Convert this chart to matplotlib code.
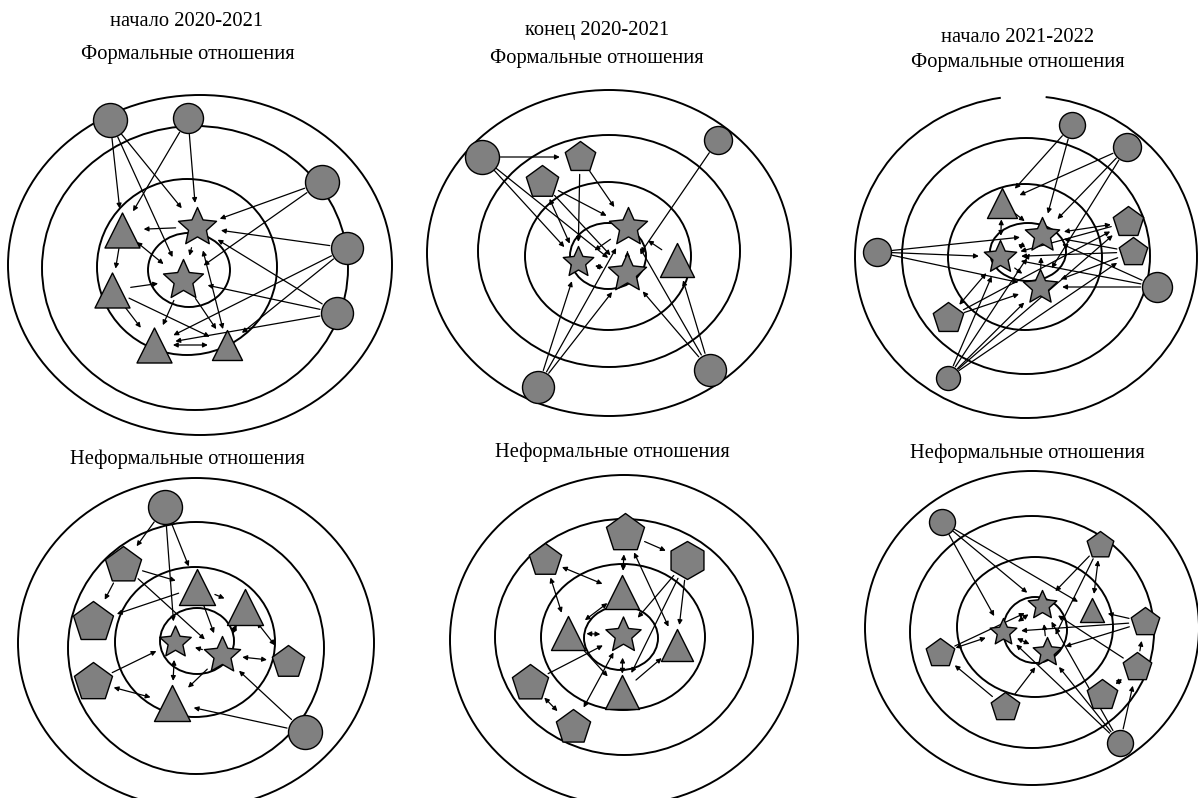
import matplotlib
matplotlib.use("Agg")
import matplotlib.pyplot as plt
from matplotlib.patches import Ellipse, Arc, FancyArrowPatch
from matplotlib.path import Path

# ---- titles ----
titles_top = ["начало 2020-2021", "конец 2020-2021", "начало 2021-2022"]
title_formal = "Формальные отношения"
title_informal = "Неформальные отношения"

# ---- rings: (cx, cy, rx, ry) for each of the 4 circles, per panel ----
rings = [
    [(200, 265, 192, 170), (195, 268, 153, 142), (187, 267, 90, 88), (189, 270, 41, 37)],
    [(609, 253, 182, 163), (609, 251, 131, 116), (608, 256, 83, 74), (608, 256, 38, 33)],
    [(1026, 257, 171, 161), (1026, 256, 124, 118), (1025, 257, 77, 73), (1028, 252, 38, 29)],
    [(196, 643, 178, 165), (196, 648, 128, 126), (195, 642, 80, 75), (197, 641, 37, 33)],
    [(624, 640, 174, 165), (624, 637, 129, 118), (623, 637, 82, 73), (621, 638, 37, 32)],
    [(1032, 628, 167, 157), (1032, 632, 122, 116), (1035, 627, 78, 70), (1035, 630, 32, 33)],
]

# ---- nodes per panel ----
p1_x = [110, 188, 322, 347, 337, 197, 183, 122, 112, 154, 227]
p1_y = [120, 118, 182, 248, 313, 227, 280, 230, 290, 345, 345]
p1_shape = ["o", "o", "o", "o", "o", "*", "*", "^", "^", "^", "^"]
p1_edges = [(0, 7, 1), (0, 5, 1), (0, 6, 1), (1, 7, 1), (1, 5, 1), (2, 5, 1), (2, 6, 1),
            (3, 5, 1), (3, 9, 1), (3, 10, 1), (4, 5, 1), (4, 6, 1), (4, 9, 1), (5, 7, 1),
            (7, 6, 2), (7, 8, 1), (8, 6, 1), (8, 10, 1), (8, 9, 1), (6, 9, 1), (9, 10, 2),
            (10, 5, 2), (5, 6, 1), (6, 10, 1)]

p2_x = [482, 718, 538, 710, 580, 542, 628, 578, 627, 677]
p2_y = [157, 140, 387, 370, 157, 182, 227, 262, 273, 260]
p2_shape = ["o", "o", "o", "o", "p", "p", "*", "*", "*", "^"]
p2_edges = [(0, 4, 1), (0, 7, 1), (0, 8, 1), (5, 7, 2), (5, 6, 1), (5, 8, 1), (4, 7, 1),
            (4, 6, 1), (1, 8, 1), (2, 7, 1), (2, 6, 1), (2, 8, 1), (3, 8, 1), (3, 6, 1),
            (3, 9, 1), (7, 8, 2), (8, 6, 1), (6, 7, 1), (9, 6, 1)]

p3_x = [1072, 1127, 877, 1157, 948, 1002, 1128, 1133, 948, 1042, 1000, 1040]
p3_y = [125, 147, 252, 287, 378, 203, 222, 252, 318, 235, 257, 287]
p3_shape = ["o", "o", "o", "o", "o", "^", "p", "p", "p", "*", "*", "*"]
p3_edges = [(0, 5, 1), (0, 9, 1), (1, 5, 1), (1, 9, 1), (1, 11, 1), (2, 9, 1), (2, 10, 1),
            (2, 11, 1), (3, 9, 1), (3, 10, 1), (3, 11, 1), (6, 9, 2), (6, 10, 1), (7, 9, 1),
            (7, 10, 1), (7, 11, 1), (4, 10, 1), (4, 11, 1), (4, 9, 1), (4, 6, 1), (4, 7, 1),
            (8, 10, 2), (8, 11, 1), (8, 6, 1), (5, 10, 2), (5, 9, 1), (9, 10, 2), (10, 11, 1),
            (11, 9, 1)]

p4_x = [165, 305, 123, 93, 93, 288, 197, 245, 172, 175, 222]
p4_y = [507, 732, 565, 622, 682, 662, 587, 607, 703, 642, 655]
p4_shape = ["o", "o", "p", "p", "p", "p", "^", "^", "^", "*", "*"]
p4_edges = [(0, 2, 1), (0, 6, 1), (0, 9, 1), (2, 6, 1), (2, 3, 1), (2, 10, 1), (6, 3, 1),
            (7, 10, 2), (7, 5, 2), (6, 7, 1), (10, 5, 2), (4, 9, 1), (4, 8, 2), (10, 9, 1),
            (9, 8, 2), (10, 8, 1), (1, 10, 1), (1, 8, 1), (6, 10, 1)]

p5_x = [625, 545, 687, 622, 568, 677, 622, 623, 530, 573]
p5_y = [533, 560, 560, 592, 633, 645, 692, 635, 683, 727]
p5_shape = ["p", "p", "h", "^", "^", "^", "^", "*", "p", "p"]
p5_edges = [(0, 2, 1), (0, 3, 2), (1, 3, 2), (1, 4, 2), (2, 7, 1), (2, 6, 1), (2, 5, 1),
            (0, 5, 2), (3, 4, 2), (4, 7, 2), (8, 7, 1), (8, 9, 2), (7, 9, 2), (6, 7, 2),
            (6, 5, 1), (4, 6, 1)]

p6_x = [942, 1120, 1100, 1092, 1145, 940, 1137, 1102, 1005, 1042, 1003, 1047]
p6_y = [522, 743, 545, 610, 622, 653, 667, 695, 707, 605, 632, 652]
p6_shape = ["o", "o", "p", "^", "p", "p", "p", "p", "p", "*", "*", "*"]
p6_edges = [(0, 10, 1), (0, 9, 1), (0, 3, 1), (2, 9, 1), (2, 11, 1), (2, 3, 2), (4, 3, 1),
            (4, 10, 1), (4, 11, 1), (5, 10, 2), (5, 9, 1), (6, 4, 1), (6, 9, 1), (7, 6, 2),
            (1, 6, 1), (1, 11, 1), (1, 10, 1), (1, 9, 1), (8, 5, 1), (8, 11, 1), (9, 10, 2),
            (10, 11, 2), (11, 9, 1)]

# marker sizes in pixels (diameter), per panel
p1_size = [34, 30, 34, 32, 32, 40, 42, 35, 35, 35, 30]
p2_size = [34, 28, 32, 32, 32, 34, 40, 32, 40, 34]
p3_size = [26, 28, 28, 30, 24, 30, 32, 30, 32, 36, 34, 36]
p4_size = [34, 34, 38, 42, 40, 34, 36, 36, 36, 33, 38]
p5_size = [40, 34, 38, 34, 34, 32, 34, 37, 38, 36]
p6_size = [26, 26, 28, 24, 30, 30, 30, 32, 30, 30, 28, 30]

panels = [
    (p1_x, p1_y, p1_shape, p1_size, p1_edges),
    (p2_x, p2_y, p2_shape, p2_size, p2_edges),
    (p3_x, p3_y, p3_shape, p3_size, p3_edges),
    (p4_x, p4_y, p4_shape, p4_size, p4_edges),
    (p5_x, p5_y, p5_shape, p5_size, p5_edges),
    (p6_x, p6_y, p6_shape, p6_size, p6_edges),
]

# fatter star than matplotlib's default '*'
star = Path.unit_regular_star(5, 0.47)

PX = 0.72  # points per pixel at dpi 100
fig = plt.figure(figsize=(11.98, 7.98), dpi=100)
ax = fig.add_axes([0, 0, 1, 1])
ax.set_xlim(0, 1198)
ax.set_ylim(798, 0)
ax.axis("off")

tfont = dict(family="Liberation Serif", fontsize=14.8, ha="center", va="center")
ax.text(187, 22, titles_top[0], **tfont)
ax.text(188, 55, title_formal, **tfont)
ax.text(597, 31, titles_top[1], **tfont)
ax.text(597, 58, title_formal, **tfont)
ax.text(1018, 37, titles_top[2], **tfont)
ax.text(1018, 63, title_formal, **tfont)
ax.text(187, 459, title_informal, **tfont)
ax.text(612, 452, title_informal, **tfont)
ax.text(1027, 453, title_informal, **tfont)

for i, rs in enumerate(rings):
    for j, (cx, cy, rx, ry) in enumerate(rs):
        if i == 2 and j == 0:
            # outer ring of the third panel has a small gap at the top
            ax.add_patch(Arc((cx, cy), 2 * rx, 2 * ry, theta1=277, theta2=261,
                             ec="black", lw=1.4, zorder=1))
        else:
            ax.add_patch(Ellipse((cx, cy), 2 * rx, 2 * ry, fill=False, ec="black", lw=1.4, zorder=1))

for xs, ys, shapes, sizes, edges in panels:
    for a, b, kind in edges:
        style = "<|-|>" if kind == 2 else "-|>"
        arr = FancyArrowPatch((xs[a], ys[a]), (xs[b], ys[b]), arrowstyle=style,
                              mutation_scale=7, lw=0.9, color="black",
                              shrinkA=sizes[a] * PX * 0.5 + 1, shrinkB=sizes[b] * PX * 0.5 + 3,
                              zorder=2)
        ax.add_patch(arr)
    for x, y, m, s in zip(xs, ys, shapes, sizes):
        mk = star if m == "*" else m
        ax.scatter([x], [y], marker=mk, s=(s * PX) ** 2, c="#808080",
                   edgecolors="black", linewidths=1.0, zorder=3)

fig.savefig("out.png", dpi=100)
